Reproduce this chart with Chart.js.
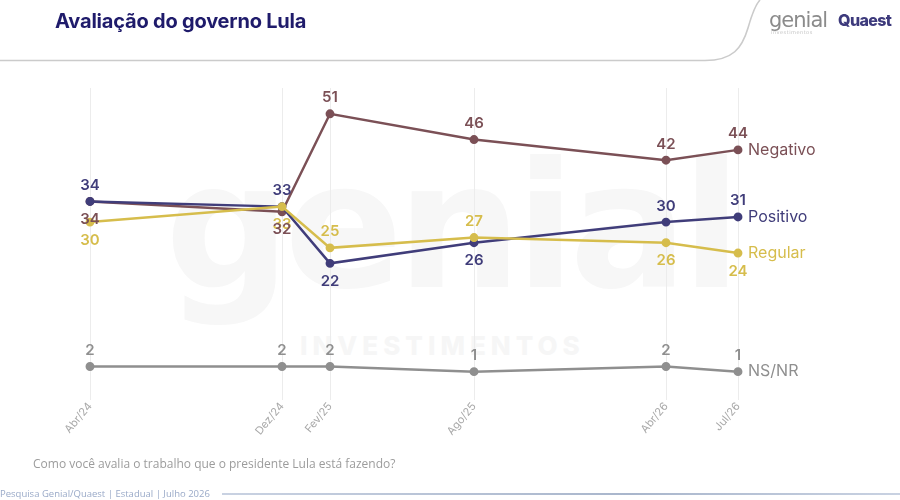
<!DOCTYPE html>
<html>
<head>
<meta charset="utf-8">
<script src="https://cdn.jsdelivr.net/npm/chart.js@4.4.1/dist/chart.umd.min.js"></script>
<style>
  html, body { margin: 0; padding: 0; background: #fff; }
  #wrap { position: relative; width: 900px; height: 500px; overflow: hidden; font-family: Inter, "Open Sans", sans-serif; }
  #chart { position: absolute; left: 0; top: 0; z-index: 2; }
  .title { position: absolute; left: 55px; top: 9px; font-size: 20px; font-weight: 700; color: #1f1b6b; z-index: 3; letter-spacing: -0.2px; }
  .logo1 { position: absolute; left: 769px; top: 8px; font-size: 21px; color: #8b8b8b; font-family: "DejaVu Sans", sans-serif; letter-spacing: -1px; z-index: 3; }
  .logo1 small { display: block; font-size: 5px; color: #c4c4c4; letter-spacing: 0.5px; margin-top: -3px; margin-left: 2px; }
  .logo2 { position: absolute; left: 838px; top: 10px; font-size: 16px; font-weight: 800; color: #3d3a7c; letter-spacing: -0.6px; z-index: 3; }
  .question { position: absolute; left: 33px; top: 455px; font-size: 12px; color: #9c9c9c; font-family: "Open Sans", sans-serif; z-index: 3; }
  .foot { position: absolute; left: 0; top: 487px; font-size: 9.5px; color: #9aaac8; font-family: "Open Sans", sans-serif; z-index: 3; white-space: nowrap; }
  .footline { position: absolute; left: 222px; top: 493px; width: 678px; height: 2px; background: linear-gradient(90deg, #c9d2e2, #a9b6cc 60%, #c9d2e2); z-index: 3; }
  .mark { position: absolute; left: 165px; top: 125px; font-size: 175px; font-weight: 800; color: #f7f7f7; font-family: "DejaVu Sans", sans-serif; letter-spacing: -6px; z-index: 1; }
  .mark2 { position: absolute; left: 300px; top: 330px; font-size: 26px; font-weight: 800; color: #f6f6f6; letter-spacing: 5px; z-index: 1; }
  svg.head { position: absolute; left: 0; top: 0; z-index: 1; }
</style>
</head>
<body>
<div id="wrap">
  <svg class="head" width="900" height="70">
    <path d="M0 60.5 H705 C733 60.5 742 48 748 28 C752 14 755 5 760 0" fill="none" stroke="#cbcbcb" stroke-width="1.6"/>
  </svg>
  <div class="mark">genial</div>
  <div class="mark2">INVESTIMENTOS</div>
  <div class="title">Avaliação do governo Lula</div>
  <div class="logo1">genial<small>investimentos</small></div>
  <div class="logo2">Quaest</div>
  <canvas id="chart" width="900" height="500"></canvas>
  <div class="question">Como você avalia o trabalho que o presidente Lula está fazendo?</div>
  <div class="foot">Pesquisa Genial/Quaest | Estadual | Julho 2026</div>
  <div class="footline"></div>
</div>
<script>
// survey rounds and their distance in months from the first one
const periods = ['Abr/24', 'Dez/24', 'Fev/25', 'Ago/25', 'Abr/26', 'Jul/26'];
const monthOffset = [0, 8, 10, 16, 24, 27];

const negativo = [34, 32, 51, 46, 42, 44];
const positivo = [34, 33, 22, 26, 30, 31];
const regular = [30, 33, 25, 27, 26, 24];
const nsnr = [2, 2, 2, 1, 2, 1];

function points(values) {
    return values.map((v, i) => ({ x: monthOffset[i], y: v }));
}

function series(name, values, color, labelSide) {
    return {
        label: name,
        data: points(values),
        borderColor: color,
        backgroundColor: color,
        borderWidth: 2.5,
        pointRadius: 3.2,
        pointHoverRadius: 3.2,
        tension: 0,
        labelSide: labelSide
    };
}

// draws the value above/below each point and the series name after the last point
const valueLabels = {
    id: 'valueLabels',
    afterDatasetsDraw(chart) {
        const ctx = chart.ctx;
        ctx.save();
        chart.data.datasets.forEach((ds, i) => {
            const meta = chart.getDatasetMeta(i);
            ctx.fillStyle = ds.borderColor;
            ctx.font = '600 15px Inter, "Open Sans", sans-serif';
            ctx.textAlign = 'center';
            ctx.textBaseline = 'middle';
            meta.data.forEach((pt, j) => {
                const below = ds.labelSide[j] === 'b';
                ctx.fillText(ds.data[j].y, pt.x, pt.y + (below ? 18 : -16));
            });
            const last = meta.data[meta.data.length - 1];
            ctx.font = '400 16px Inter, "Open Sans", sans-serif';
            ctx.textAlign = 'left';
            ctx.fillText(ds.label, last.x + 10, last.y);
        });
        ctx.restore();
    }
};

new Chart(document.getElementById('chart'), {
    type: 'line',
    data: {
        datasets: [
            series('NS/NR', nsnr, '#8f8f8f', ['a', 'a', 'a', 'a', 'a', 'a']),
            series('Regular', regular, '#d6bd4c', ['b', 'b', 'a', 'a', 'b', 'b']),
            series('Positivo', positivo, '#403d7a', ['a', 'a', 'b', 'b', 'a', 'a']),
            series('Negativo', negativo, '#7b5056', ['b', 'b', 'a', 'a', 'a', 'a'])
        ]
    },
    options: {
        responsive: false,
        animation: false,
        layout: { padding: { top: 88, left: 54, right: 78, bottom: 40 } },
        plugins: {
            legend: { display: false },
            tooltip: { enabled: false }
        },
        scales: {
            x: {
                type: 'linear',
                min: -1.5,
                max: 30.5,
                afterBuildTicks: (s) => { s.ticks = monthOffset.map(v => ({ value: v })); },
                afterFit: (s) => { s.height = 60; },
                border: { display: false },
                grid: { color: '#ececec', lineWidth: 1, tickLength: 0 },
                ticks: {
                    autoSkip: false,
                    minRotation: 50,
                    maxRotation: 50,
                    padding: 0,
                    color: '#a8a8a8',
                    font: { family: 'Inter, "Open Sans", sans-serif', size: 11 },
                    callback: (v) => periods[monthOffset.indexOf(v)]
                }
            },
            y: {
                display: false,
                min: -4.5,
                max: 56
            }
        }
    },
    plugins: [valueLabels]
});
</script>
</body>
</html>
